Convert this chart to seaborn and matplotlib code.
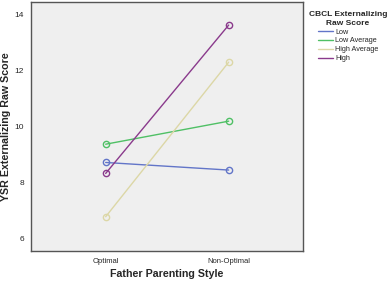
import matplotlib
matplotlib.use("Agg")
import matplotlib.pyplot as plt
import seaborn as sns
import pandas as pd
from matplotlib.lines import Line2D

styles = ["Optimal", "Non-Optimal"]
groups = ["Low", "Low Average", "High Average", "High"]
low = [8.72, 8.45]
low_avg = [9.37, 10.19]
high_avg = [6.79, 12.29]
high = [8.33, 13.61]
colors = ["#6275c8", "#4fc065", "#dcd7a6", "#8a3a8c"]

rows = []
for g, vals in zip(groups, [low, low_avg, high_avg, high]):
    for i, (s, v) in enumerate(zip(styles, vals)):
        rows.append({"style": s, "x": i, "group": g, "score": v})
df = pd.DataFrame(rows)

sns.set_style("white")
plt.rcParams['font.family'] = ['Liberation Sans', 'DejaVu Sans']

fig = plt.figure(figsize=(3.87, 2.82), dpi=100)
ax = fig.add_axes([31/387, 1 - 251/282, (303-31)/387, (251-2)/282])
ax.set_facecolor("#efefef")

sns.lineplot(data=df, x="x", y="score", hue="group", hue_order=groups,
             palette=colors, marker="o", markersize=4.5, markerfacecolor="none",
             linewidth=1.0, ax=ax, legend=False)
for line, c in zip(ax.lines, colors):
    line.set_markeredgecolor(c)
    line.set_markeredgewidth(1.0)

ax.set_xlim(-0.607, 1.604)
ax.set_ylim(5.57, 14.43)
ax.set_xticks([0, 1])
ax.set_xticklabels(styles, fontsize=5.5)
ax.set_yticks([6, 8, 10, 12, 14])
ax.set_yticklabels(["6", "8", "10", "12", "14"], fontsize=6)
ax.tick_params(axis="both", direction="out", length=3.5, width=0.8, color="#555555", pad=1.5)
for sp in ax.spines.values():
    sp.set_color("#555555")
    sp.set_linewidth(1.0)
ax.set_xlabel("Father Parenting Style", fontsize=7.7, fontweight="bold", labelpad=3)
ax.set_ylabel("YSR Externalizing Raw Score", fontsize=7.7, fontweight="bold")
ax.yaxis.set_label_coords(-0.0735, 0.5)

handles = [Line2D([0], [0], color=c, lw=1.0) for c in colors]
leg = fig.legend(handles, groups, loc="upper left", bbox_to_anchor=(303/387, 1 - 5/282),
                 frameon=False, fontsize=5.2, handlelength=2.1, handletextpad=0.3,
                 labelspacing=0.25, borderpad=0.3,
                 title="CBCL Externalizing\nRaw Score",
                 title_fontproperties={"weight": "bold", "size": 6})
leg.get_title().set_multialignment("center")
leg.get_title().set_linespacing(1.4)

fig.savefig("out.png", dpi=100)
